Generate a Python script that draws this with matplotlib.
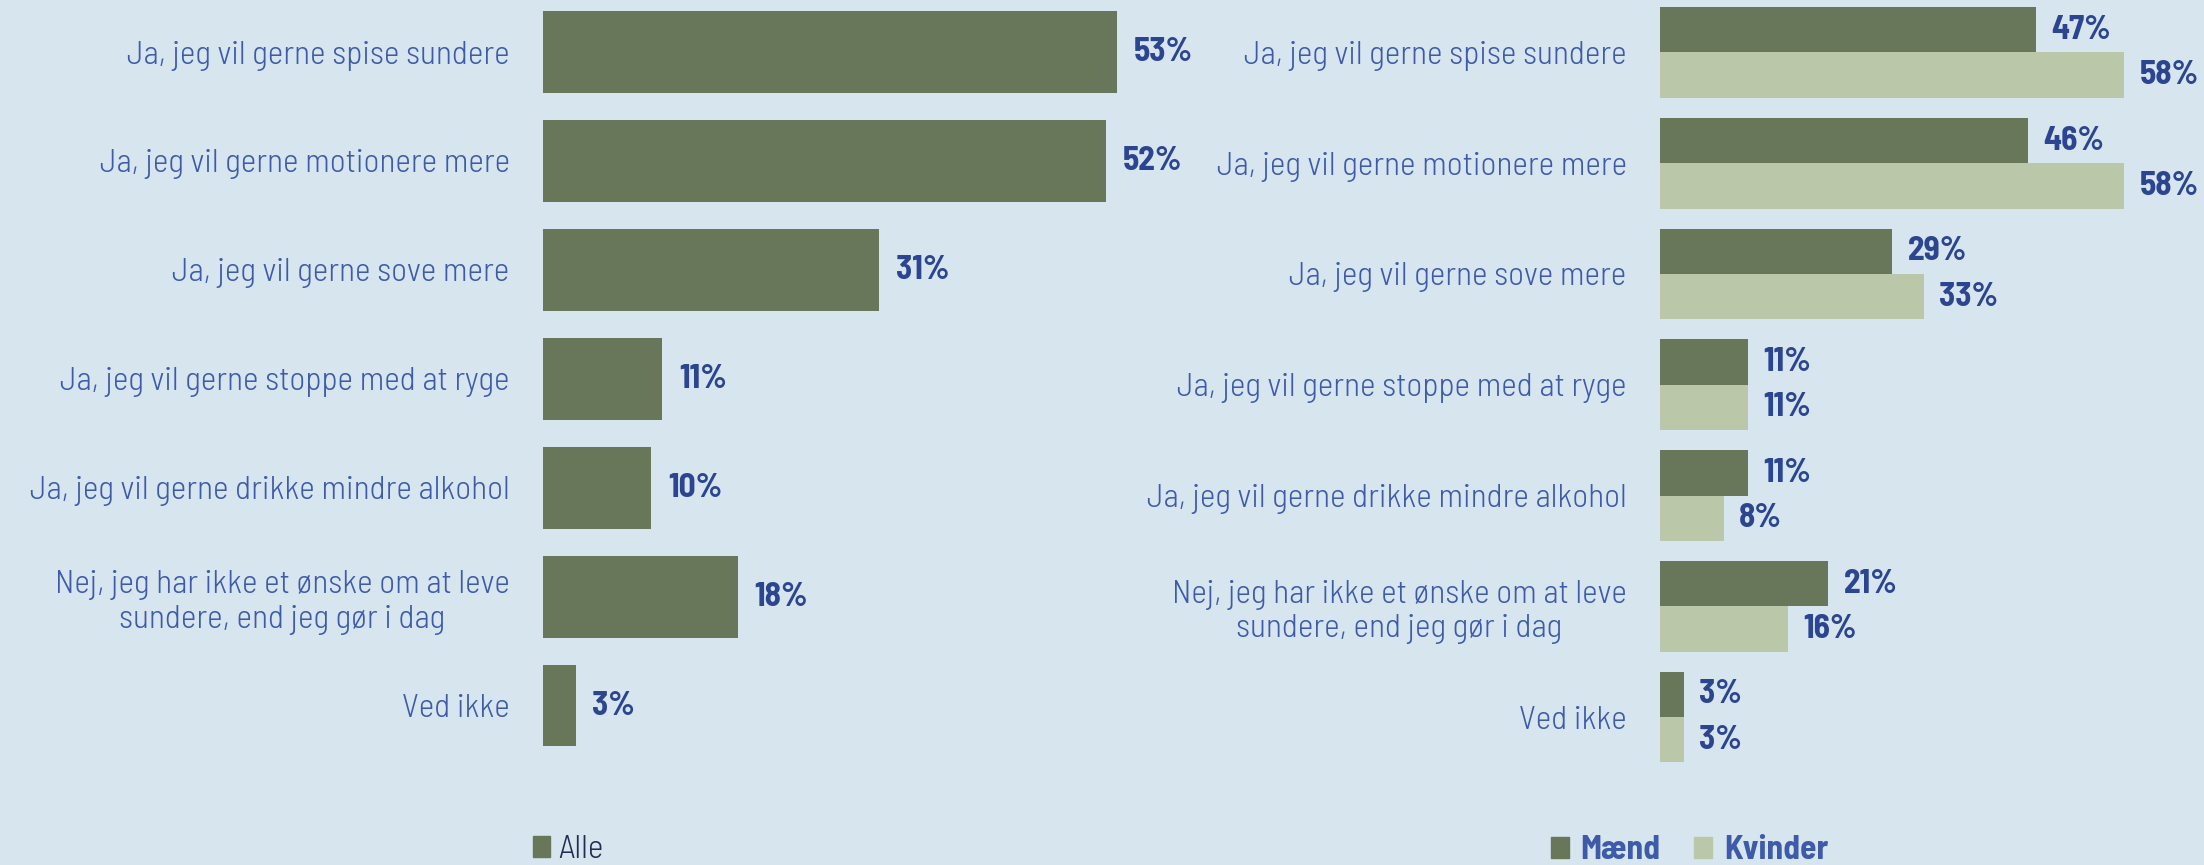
import matplotlib.pyplot as plt
from matplotlib.patches import Patch

# ------- DATA -------
categories = [
    "Ja, jeg vil gerne spise sundere",
    "Ja, jeg vil gerne motionere mere",
    "Ja, jeg vil gerne sove mere",
    "Ja, jeg vil gerne stoppe med at ryge",
    "Ja, jeg vil gerne drikke mindre alkohol",
    "Nej, jeg har ikke et ønske om at leve\nsundere, end jeg gør i dag",
    "Ved ikke",
]
alle = [53, 52, 31, 11, 10, 18, 3]
maend = [47, 46, 29, 11, 11, 21, 3]
kvinder = [58, 58, 33, 11, 8, 16, 3]

# ------- STYLE -------
BG = "#d7e5ef"
DARK = "#68765a"
LIGHT = "#bac8a9"
LABEL_COL = "#3d5ba9"
VALUE_COL = "#2c4590"

plt.rcParams["font.family"] = ["Barlow Semi Condensed", "DejaVu Sans"]

fig = plt.figure(figsize=(22.04, 8.65), dpi=100, facecolor=BG)

y = list(range(len(categories)))


def style_axes(ax, xmax):
    ax.set_facecolor(BG)
    for s in ax.spines.values():
        s.set_visible(False)
    ax.set_xlim(0, xmax)
    ax.set_ylim(6.6, -0.45)
    ax.set_xticks([])
    ax.set_yticks(y)
    ax.set_yticklabels(categories, fontsize=24, color=LABEL_COL, fontweight=300)
    ax.tick_params(axis="y", length=0, pad=24)
    for lbl in ax.get_yticklabels():
        lbl.set_multialignment("center")


# ------- LEFT: Alle -------
ax1 = fig.add_axes([0.2464, 0.1087, 0.2949, 0.8878])
style_axes(ax1, 60)
ax1.barh(y, alle, height=0.75, color=DARK)
for yi, v in zip(y, alle):
    ax1.annotate(f"{v}%", (v, yi), xytext=(12, 0), textcoords="offset points",
                 va="center", ha="left", fontsize=24, fontweight="bold", color=VALUE_COL)

# ------- RIGHT: Mænd / Kvinder -------
ax2 = fig.add_axes([0.7532, 0.0942, 0.236, 0.9028])
style_axes(ax2, 65)
h = 0.41
ym = [v - h / 2 for v in y]
yk = [v + h / 2 for v in y]
ax2.barh(ym, maend, height=h, color=DARK)
ax2.barh(yk, kvinder, height=h, color=LIGHT)
for yi, v in zip(ym, maend):
    ax2.annotate(f"{v}%", (v, yi), xytext=(11, 0), textcoords="offset points",
                 va="center", ha="left", fontsize=24, fontweight="bold", color=VALUE_COL)
for yi, v in zip(yk, kvinder):
    ax2.annotate(f"{v}%", (v, yi), xytext=(11, 0), textcoords="offset points",
                 va="center", ha="left", fontsize=24, fontweight="bold", color=VALUE_COL)

# ------- LEGENDS -------
fig.legend(handles=[Patch(color=DARK, label="Alle")], loc="lower left",
           bbox_to_anchor=(0.2420, 0.0), frameon=False,
           prop={"size": 24, "weight": 300},
           handlelength=0.5, handleheight=0.6, handletextpad=0.25,
           borderpad=0, borderaxespad=0, labelcolor="#1f2d52")

fig.legend(handles=[Patch(color=DARK, label="Mænd"), Patch(color=LIGHT, label="Kvinder")],
           loc="lower left", bbox_to_anchor=(0.7035, 0.0), frameon=False, ncol=2,
           prop={"size": 24, "weight": "bold"}, handlelength=0.55, handleheight=0.6,
           handletextpad=0.35, columnspacing=1.0, borderpad=0, borderaxespad=0,
           labelcolor=LABEL_COL)

fig.savefig("out.png", dpi=100, facecolor=BG)
